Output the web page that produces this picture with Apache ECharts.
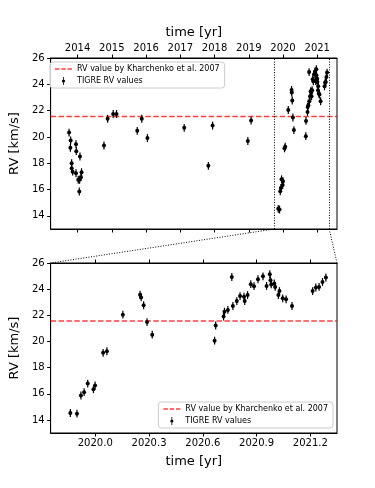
<!DOCTYPE html>
<html>
<head>
<meta charset="utf-8">
<script src="https://cdn.jsdelivr.net/npm/echarts@6/dist/echarts.min.js"></script>
<style>
  html, body { margin: 0; padding: 0; background: #fff; }
  #chart { width: 375px; height: 488px; }
</style>
</head>
<body>
<div id="chart"></div>
<script>
const TIME = [
  2013.752, 2013.790, 2013.798, 2013.827, 2013.827, 2013.856, 2013.954, 2013.963, 2013.954,
  2014.020, 2014.050, 2014.060, 2014.070, 2014.098, 2014.116,
  2014.771, 2014.877, 2015.040, 2015.137, 2015.743, 2015.875, 2016.040,
  2017.115, 2017.820, 2017.943, 2018.973, 2019.068,
  2019.861, 2019.898, 2019.920, 2019.938, 2019.958, 2019.990, 2019.999,
  2020.044, 2020.065, 2020.154, 2020.250, 2020.256, 2020.270, 2020.289, 2020.318,
  2020.666, 2020.672, 2020.716, 2020.721, 2020.740, 2020.762, 2020.768, 2020.790,
  2020.808, 2020.830, 2020.834, 2020.850, 2020.868, 2020.886, 2020.908, 2020.936,
  2020.956, 2020.974, 2020.978, 2020.982, 2020.999, 2021.004, 2021.022, 2021.028,
  2021.046, 2021.065, 2021.098,
  2021.213, 2021.231, 2021.249, 2021.268, 2021.287
]
const RV = [
  20.33, 19.17, 19.73, 18.00, 17.62, 17.36, 19.45, 18.92, 17.24,
  16.74, 15.85, 16.74, 18.51, 16.94, 17.32,
  19.35, 21.38, 21.74, 21.74, 20.46, 21.38, 19.91,
  20.69, 17.80, 20.86, 19.69, 21.25,
  14.53, 14.48, 15.87, 16.12, 16.78, 16.35, 16.63,
  19.13, 19.25, 22.05, 23.57, 23.37, 22.77, 21.48, 20.52,
  20.06, 21.22, 21.90, 22.28, 22.41, 24.93, 22.71, 23.09,
  23.47, 23.42, 23.09, 23.55, 24.38, 24.23, 24.76, 24.98,
  24.25, 25.14, 24.68, 24.36, 24.43, 24.17, 23.55, 23.85,
  23.30, 23.22, 22.71,
  23.85, 24.13, 24.17, 24.55, 24.89
]
const RV_ERR = 0.3
const RV_KHARCHENKO = 21.56

const TOP_RANGE = [2013.213, 2021.577]
const ZOOM_RANGE = [2019.751, 2021.349]
const RV_RANGE = [13, 26]
const TOP_TICKS = [2014, 2015, 2016, 2017, 2018, 2019, 2020, 2021]
const ZOOM_TICKS = [2020.0, 2020.3, 2020.6, 2020.9, 2021.2]
const RV_TICKS = [14, 16, 18, 20, 22, 24, 26]

const REF_NAME = 'RV value by Kharchenko et al. 2007'
const OBS_NAME = 'TIGRE RV values'

let chart = echarts.init(document.getElementById('chart'), null, { renderer: 'canvas' })

const font = 'DejaVu Sans'
const points = TIME.map((t, i) => [t, RV[i]])

function renderErr (params, api) {
  let x = api.value(0)
  let y = api.value(1)
  let c = api.coord([x, y])
  let hi = api.coord([x, y + RV_ERR])
  let lo = api.coord([x, y - RV_ERR])
  return {
    type: 'group',
    children: [
      { type: 'line', shape: { x1: c[0], y1: hi[1], x2: c[0], y2: lo[1] }, style: { stroke: '#000', lineWidth: 1.2 } },
      { type: 'circle', shape: { cx: c[0], cy: c[1], r: 2 }, style: { fill: '#000' } }
    ]
  }
}

function xAxis (grid, pos, range, ticks, opts) {
  return Object.assign({
    type: 'value',
    gridIndex: grid,
    position: pos,
    min: range[0],
    max: range[1],
    splitLine: { show: false },
    axisLine: { show: true, onZero: false, lineStyle: { color: '#000', width: 1 } },
    axisTick: { show: true, length: 3.5, customValues: ticks, lineStyle: { color: '#000' } },
    axisLabel: { show: false, customValues: ticks, color: '#000', fontSize: 10, fontFamily: font, margin: 5 }
  }, opts || {})
}

function yAxis (grid) {
  return {
    type: 'value',
    gridIndex: grid,
    min: RV_RANGE[0],
    max: RV_RANGE[1],
    name: 'RV [km/s]',
    nameLocation: 'middle',
    nameGap: 25,
    nameTextStyle: { color: '#000', fontSize: 13, fontFamily: font },
    splitLine: { show: false },
    axisLine: { show: true, onZero: false, lineStyle: { color: '#000', width: 1 } },
    axisTick: { show: true, length: 3.5, customValues: RV_TICKS, lineStyle: { color: '#000' } },
    axisLabel: { customValues: RV_TICKS, color: '#000', fontSize: 10, fontFamily: font, margin: 6 }
  }
}

const dashed = { color: 'rgba(255,0,0,0.75)', width: 1.5, type: [5.5, 2.4] }
const dotted = { color: '#000', width: 1, type: [1, 1.6] }
const legendBase = {
  orient: 'vertical',
  backgroundColor: 'rgba(255,255,255,0.8)',
  borderColor: '#ccc',
  borderWidth: 1,
  borderRadius: 3,
  padding: [3, 5, 3, 5],
  itemGap: 4,
  itemWidth: 17,
  itemHeight: 8,
  textStyle: { color: '#000', fontSize: 8, fontFamily: font },
  data: [
    { name: REF_NAME, icon: 'path://M0,0H4.5V1.5H0Z M6.25,0H10.75V1.5H6.25Z M12.5,0H17V1.5H12.5Z' },
    { name: OBS_NAME, icon: 'path://M4,0L6,0L6,20L4,20Z M5,6A4,4 0 1,1 5,14A4,4 0 1,1 5,6Z' }
  ]
}

let option = {
  animation: false,
  backgroundColor: '#fff',
  grid: [
    { left: 47, top: 58, width: 290, height: 171, show: true, borderColor: '#000', borderWidth: 1, containLabel: false },
    { left: 47, top: 263, width: 290, height: 170, show: true, borderColor: '#000', borderWidth: 1, containLabel: false }
  ],
  legend: [
    Object.assign({}, legendBase, { left: 50, top: 62 }),
    Object.assign({}, legendBase, { right: 42, top: 402 })
  ],
  xAxis: [
    xAxis(0, 'top', TOP_RANGE, TOP_TICKS, {
      name: 'time [yr]', nameLocation: 'middle', nameGap: 19,
      nameTextStyle: { color: '#000', fontSize: 13, fontFamily: font },
      axisLabel: { show: true, customValues: TOP_TICKS, color: '#000', fontSize: 10, fontFamily: font, margin: 5,
        formatter: v => String(v) }
    }),
    xAxis(0, 'bottom', TOP_RANGE, TOP_TICKS),
    xAxis(1, 'bottom', ZOOM_RANGE, ZOOM_TICKS, {
      name: 'time [yr]', nameLocation: 'middle', nameGap: 22,
      nameTextStyle: { color: '#000', fontSize: 13, fontFamily: font },
      axisLabel: { show: true, customValues: ZOOM_TICKS, color: '#000', fontSize: 10, fontFamily: font, margin: 5,
        formatter: v => v.toFixed(1) }
    }),
    xAxis(1, 'top', ZOOM_RANGE, ZOOM_TICKS)
  ],
  yAxis: [yAxis(0), yAxis(1)],
  series: [
    {
      name: REF_NAME,
      type: 'line',
      xAxisIndex: 0,
      yAxisIndex: 0,
      data: [[TOP_RANGE[0], RV_KHARCHENKO], [TOP_RANGE[1], RV_KHARCHENKO]],
      symbol: 'none',
      itemStyle: { color: 'rgba(255,0,0,0.75)' },
      lineStyle: dashed,
      silent: true,
      z: 1,
      markLine: {
        silent: true,
        symbol: 'none',
        label: { show: false },
        lineStyle: dotted,
        data: [{ xAxis: ZOOM_RANGE[0] }, { xAxis: ZOOM_RANGE[1] }]
      }
    },
    {
      name: OBS_NAME,
      type: 'custom',
      xAxisIndex: 0,
      yAxisIndex: 0,
      itemStyle: { color: '#000' },
      renderItem: renderErr,
      encode: { x: 0, y: 1 },
      data: points,
      z: 3
    },
    {
      name: REF_NAME,
      type: 'line',
      xAxisIndex: 2,
      yAxisIndex: 1,
      data: [[ZOOM_RANGE[0], RV_KHARCHENKO], [ZOOM_RANGE[1], RV_KHARCHENKO]],
      symbol: 'none',
      itemStyle: { color: 'rgba(255,0,0,0.75)' },
      lineStyle: dashed,
      silent: true,
      z: 1
    },
    {
      name: OBS_NAME,
      type: 'custom',
      xAxisIndex: 2,
      yAxisIndex: 1,
      itemStyle: { color: '#000' },
      renderItem: renderErr,
      encode: { x: 0, y: 1 },
      clip: true,
      data: points,
      z: 3
    }
  ]
}
chart.setOption(option)

// dotted lines linking the zoom window to the lower panel
let a1 = chart.convertToPixel({ seriesIndex: 0 }, [ZOOM_RANGE[0], RV_RANGE[0]])
let a2 = chart.convertToPixel({ seriesIndex: 0 }, [ZOOM_RANGE[1], RV_RANGE[0]])
let b1 = chart.convertToPixel({ seriesIndex: 2 }, [ZOOM_RANGE[0], RV_RANGE[1]])
let b2 = chart.convertToPixel({ seriesIndex: 2 }, [ZOOM_RANGE[1], RV_RANGE[1]])
chart.setOption({
  graphic: [
    { type: 'line', silent: true, shape: { x1: a1[0], y1: a1[1], x2: b1[0], y2: b1[1] }, style: { stroke: '#000', lineWidth: 1, lineDash: [1, 1.6] } },
    { type: 'line', silent: true, shape: { x1: a2[0], y1: a2[1], x2: b2[0], y2: b2[1] }, style: { stroke: '#000', lineWidth: 1, lineDash: [1, 1.6] } }
  ]
})
</script>
</body>
</html>
